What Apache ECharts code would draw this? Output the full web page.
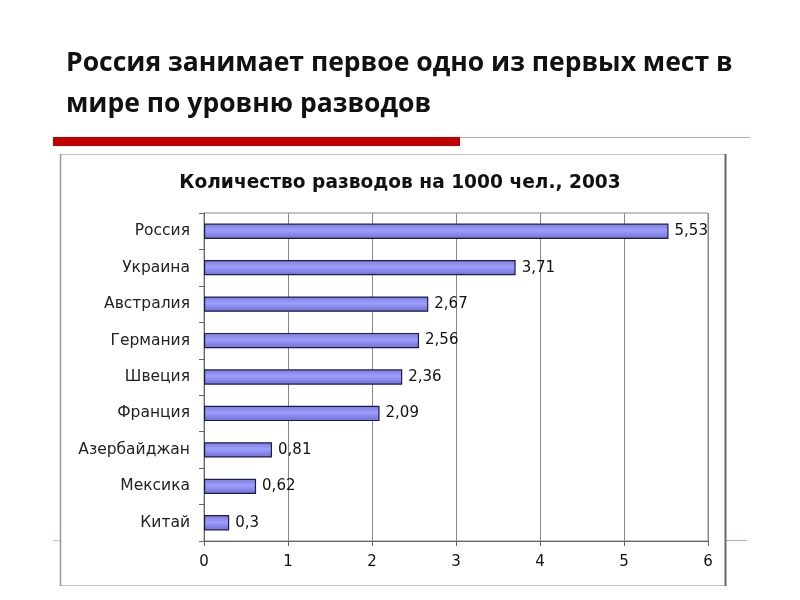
<!DOCTYPE html>
<html><head><meta charset="utf-8">
<script src="https://cdn.jsdelivr.net/npm/echarts@6/dist/echarts.min.js"></script>
<style>html,body{margin:0;padding:0;background:#fff}#c{width:800px;height:600px}</style>
</head><body><div id="c"></div>
<script>
var categories = ['Россия','Украина','Австралия','Германия','Швеция','Франция','Азербайджан','Мексика','Китай'];
var values = [5.53, 3.71, 2.67, 2.56, 2.36, 2.09, 0.81, 0.62, 0.3];
var xTicks = [0,1,2,3,4,5,6];
var chart = echarts.init(document.getElementById('c'));
chart.setOption({
  backgroundColor:'#fff',
  animation:false,
  graphic:[
    {type:'rect',shape:{x:53,y:137,width:407,height:9},style:{fill:'#c00000'}},
    {type:'line',shape:{x1:460,y1:137.5,x2:750,y2:137.5},style:{stroke:'#d9a0a0',lineWidth:1}},
    {type:'line',shape:{x1:53,y1:540.5,x2:60,y2:540.5},style:{stroke:'#e8b0b0',lineWidth:1}},
    {type:'line',shape:{x1:726,y1:540.5,x2:747,y2:540.5},style:{stroke:'#d9a0a0',lineWidth:1}},
    {type:'rect',shape:{x:60.5,y:154.5,width:665,height:431},style:{fill:'none',stroke:'#c0c0c0',lineWidth:1}},
    {type:'line',shape:{x1:725.5,y1:154,x2:725.5,y2:586},style:{stroke:'#666',lineWidth:2}},
    {type:'line',shape:{x1:60.5,y1:154,x2:60.5,y2:586},style:{stroke:'#999',lineWidth:1.5}}
  ],
  title:[
    {text:'Россия занимает первое одно из первых мест в',left:61,top:45,textStyle:{fontFamily:'Open Sans',fontWeight:'bold',fontSize:26.5,color:'#111'}},
    {text:'мире по уровню разводов',left:61,top:86,textStyle:{fontFamily:'Open Sans',fontWeight:'bold',fontSize:26.5,color:'#111'}},
    {text:'Количество разводов на 1000 чел., 2003',left:'center',top:169,textStyle:{fontFamily:'DejaVu Sans',fontWeight:'bold',fontSize:18.6,color:'#111'}}
  ],
  grid:{left:204,right:92,top:213,bottom:59,show:true,borderColor:'#888',borderWidth:1,backgroundColor:'transparent'},
  xAxis:{type:'value',min:0,max:6,interval:1,
    axisLine:{show:true,lineStyle:{color:'#666'}},
    axisTick:{show:true,length:5,lineStyle:{color:'#666'}},
    axisLabel:{fontFamily:'DejaVu Sans',fontSize:15,color:'#111',margin:14,formatter:function(v){return xTicks.indexOf(v)>=0?String(v):'';}},
    splitLine:{show:true,lineStyle:{color:'#888',width:1}}},
  yAxis:{type:'category',data:categories,inverse:true,
    axisLine:{show:true,lineStyle:{color:'#666'}},
    axisTick:{show:true,length:5,lineStyle:{color:'#666'}},
    axisLabel:{fontFamily:'DejaVu Sans',fontSize:15.5,color:'#222',margin:14}},
  series:[{type:'bar',data:values,barCategoryGap:'58%',
    itemStyle:{borderColor:'#1c1c48',borderWidth:1.2,
      color:{type:'linear',x:0,y:0,x2:0,y2:1,colorStops:[{offset:0,color:'#7a7ae0'},{offset:0.45,color:'#9e9efa'},{offset:1,color:'#6e6ed6'}]}},
    label:{show:true,position:'right',distance:6,fontFamily:'DejaVu Sans',fontSize:15,color:'#111',
      formatter:function(p){return String(p.value).replace('.',',');}}
  }]
});
</script></body></html>
